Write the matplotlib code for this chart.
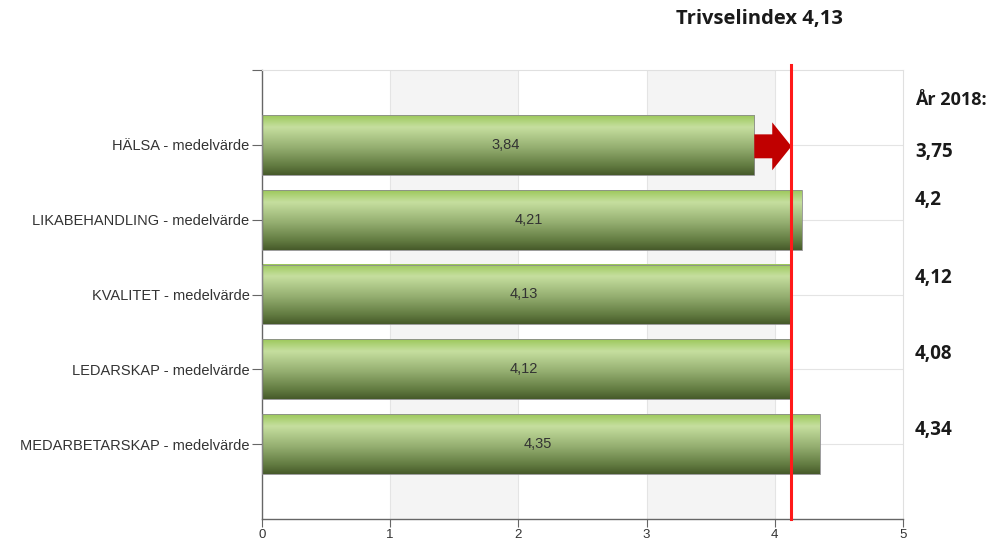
import numpy as np
import matplotlib.pyplot as plt
from matplotlib.colors import LinearSegmentedColormap
from matplotlib.patches import Rectangle, FancyArrow

categories = [
    "HÄLSA - medelvärde",
    "LIKABEHANDLING - medelvärde",
    "KVALITET - medelvärde",
    "LEDARSKAP - medelvärde",
    "MEDARBETARSKAP - medelvärde",
]
values = [3.84, 4.21, 4.13, 4.12, 4.35]
value_labels = ["3,84", "4,21", "4,13", "4,12", "4,35"]
prev_year_labels = ["3,75", "4,2", "4,12", "4,08", "4,34"]
index_value = 4.13
index_label = "Trivselindex 4,13"
prev_year_title = "År 2018:"

plt.rcParams['font.family'] = ['Liberation Sans', 'DejaVu Sans']

fig = plt.figure(figsize=(9.91, 5.44), dpi=100)
ax = fig.add_axes([262 / 991, 1 - 519 / 544, (903 - 262) / 991, (519 - 70) / 544])

ax.set_xlim(0, 5)
ax.set_ylim(5, -1)

# alternating background bands
for x0 in (1, 3):
    ax.axvspan(x0, x0 + 1, color='#f4f4f4', zorder=0, lw=0)
for x in (1, 2, 3, 4):
    ax.axvline(x, color='#e4e4e4', lw=0.8, zorder=0.5)
ys = np.arange(len(categories))
for y in ys:
    ax.axhline(y, color='#e4e4e4', lw=0.8, zorder=0.5)

# gradient bars
cmap = LinearSegmentedColormap.from_list('bar', [
    (0.0, '#9cc85a'), (0.2, '#c6df9f'), (0.55, '#93ad6f'),
    (0.85, '#617a40'), (1.0, '#465a2a')])
grad = np.linspace(0, 1, 256).reshape(-1, 1)
h = 0.8
for y, v, lab in zip(ys, values, value_labels):
    ax.imshow(grad, cmap=cmap, aspect='auto', origin='upper',
              extent=(0, v, y + h / 2, y - h / 2), zorder=2, interpolation='bilinear')
    ax.add_patch(Rectangle((0, y - h / 2), v, h, fill=False, ec='#8c8c8c', lw=0.6, zorder=3))
    ax.text(v / 2 - 0.02, y, lab, ha='center', va='center', fontsize=10.5, color='#333333', zorder=4)

ax.set_xlim(0, 5)
ax.set_ylim(5, -1)

# index line
ax.plot([index_value, index_value], [5, -1.07], color='#ff1a1a', lw=2.2, zorder=5, clip_on=False)

# arrow from HÄLSA bar to index line
ax.add_patch(FancyArrow(values[0], 0.02, index_value - values[0], 0, width=0.32,
                        head_width=0.64, head_length=0.15, length_includes_head=True,
                        color='#c00000', lw=0, zorder=4))

ax.set_yticks(list(ys) + [-1])
ax.set_yticklabels(categories + [""])
ax.set_xticks([0, 1, 2, 3, 4, 5])
ax.tick_params(axis='both', direction='out', length=7, width=0.8, color='#666666',
               labelsize=10.5, labelcolor='#333333')
ax.tick_params(axis='y', pad=2)
ax.tick_params(axis='x', pad=1, labelsize=9.5, length=6)

for side in ('left', 'bottom'):
    ax.spines[side].set_color('#666666')
    ax.spines[side].set_linewidth(1.0)
for side in ('top', 'right'):
    ax.spines[side].set_color('#e0e0e0')
    ax.spines[side].set_linewidth(0.8)

# text outside the plot
bold = dict(fontfamily=['Open Sans', 'DejaVu Sans'], fontweight='bold', color='#1a1a1a')
fig.text(759 / 991, 1 - 19 / 544, index_label, ha='center', va='center', fontsize=14.5, **bold)
fig.text(915 / 991, 1 - 100 / 544, prev_year_title, ha='left', va='center', fontsize=13, **bold)
prev_y = [152, 200, 278, 354, 430]
for py, lab in zip(prev_y, prev_year_labels):
    fig.text(915 / 991, 1 - py / 544, lab, ha='left', va='center', fontsize=13.5, **bold)

fig.savefig('out.png', dpi=100)
